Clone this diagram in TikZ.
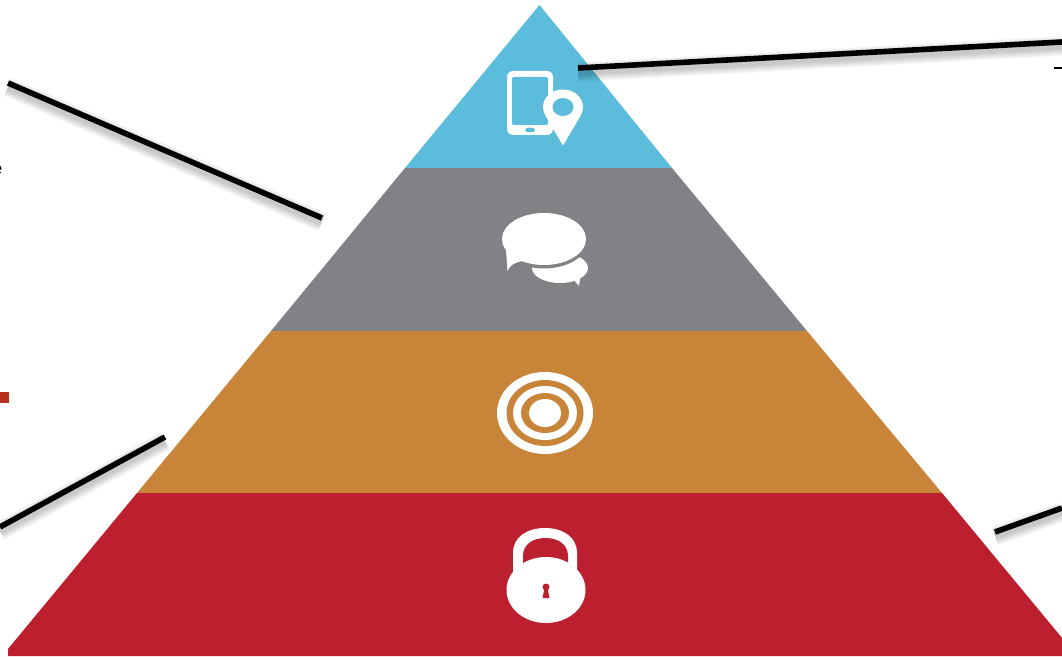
\documentclass[tikz,border=0pt]{standalone}
\usepackage{fontspec}
\setmainfont{Liberation Sans}
\definecolor{tblue}{HTML}{5BBCDB}
\definecolor{tgray}{HTML}{808285}
\definecolor{torange}{HTML}{C8853A}
\definecolor{tred}{HTML}{BC202E}
\definecolor{tsquare}{HTML}{B5301F}
\tikzset{
  tier/.style={draw=none},
  icon/.style={fill=white,draw=none},
  callout/.style={line width=4.2pt,black,line cap=butt},
  shadowline/.style={line cap=butt,black,draw opacity=0.028},
}
\newcommand{\shadowed}[2]{%
  \foreach \w in {15,13.5,12,10.5,9,7.5,6,4.5}{
    \draw[shadowline,line width=\w pt] ([yshift=-3pt]#1) -- ([yshift=-3pt]#2);
  }
  \draw[callout] (#1) -- (#2);
}
\begin{document}
\begin{tikzpicture}[x=0.75pt,y=-0.75pt]
\useasboundingbox (0,0) rectangle (1062,656);
\clip (0,0) rectangle (1062,656);
\fill[white] (0,0) rectangle (1062,656);
% pyramid
\fill[tier,tblue] (539.5,5) -- (672,168) -- (405,168) -- cycle;
\fill[tier,tgray] (405,168) -- (672,168) -- (807,331) -- (271,331) -- cycle;
\fill[tier,torange] (271,331) -- (807,331) -- (942,493) -- (137,493) -- cycle;
\fill[tier,tred] (137,493) -- (942,493) -- (1077,656) -- (8,656) -- (8,649) -- cycle;
% phone + pin
\fill[icon,rounded corners=4.5pt] (507,71) rectangle (553,135);
\fill[tblue,rounded corners=1pt] (512,77) rectangle (548,125);
\fill[tblue] (530,130) ellipse (5 and 2.5);
\fill[icon] (563,107) ellipse (20 and 17.5);
\fill[icon] (563,145.5) -- (545,115) -- (581,115) -- cycle;
\fill[tblue] (563,107) ellipse (10.5 and 9);
% chat
\fill[icon] (560,268) ellipse (28 and 15);
\fill[icon] (572,278) -- (579,286) -- (581,272) -- cycle;
\fill[tgray] (544,239) ellipse (45 and 29.5);
\fill[icon] (544,239) ellipse (42 and 26);
\fill[icon] (506,250) -- (507.5,271) .. controls (510,265) and (515,262) .. (523,261) -- cycle;
% target
\fill[icon] (545,413) ellipse (48 and 41);
\fill[torange] (545,413) ellipse (38.5 and 33);
\fill[icon] (545,413) ellipse (32 and 27);
\fill[torange] (545,413) ellipse (24 and 20);
\fill[icon] (545,413) ellipse (16 and 14);
% lock
\fill[icon] (513,575) -- (513,553) .. controls (513,537) and (527,528) .. (545,528) .. controls (563,528) and (577,537) .. (577,553) -- (577,575) -- cycle;
\fill[tred] (523,566) -- (523,556) .. controls (523,545) and (532,538) .. (545.5,538) .. controls (559,538) and (568,545) .. (568,556) -- (568,566) -- cycle;
\fill[icon] (546,590) ellipse (39.5 and 33);
\fill[tred] (546,587) circle (3.5);
\fill[tred] (544.5,588) -- (547.5,588) -- (549.5,598) -- (542.5,598) -- cycle;
% call-outs
\coordinate (topA) at (578,68);
\coordinate (topB) at (1062,42);
\coordinate (leftA) at (8,83);
\coordinate (leftB) at (322,218);
\coordinate (lowA) at (165,437);
\coordinate (lowB) at (0,527);
\coordinate (rightA) at (995,532);
\coordinate (rightB) at (1062,508);
\shadowed{topA}{topB}
\shadowed{leftA}{leftB}
\shadowed{lowA}{lowB}
\shadowed{rightA}{rightB}
% fragments at the edges
\coordinate (dashA) at (1054,68);
\coordinate (dashB) at (1062,68);
\draw[line width=0.9pt,black] (dashA) -- (dashB);
\fill[tsquare] (0,392) rectangle (9,403);
\node[anchor=base east,inner sep=0pt,font=\fontsize{13}{15}\selectfont] (frag) at (2.5,174) {e};
\end{tikzpicture}
\end{document}
